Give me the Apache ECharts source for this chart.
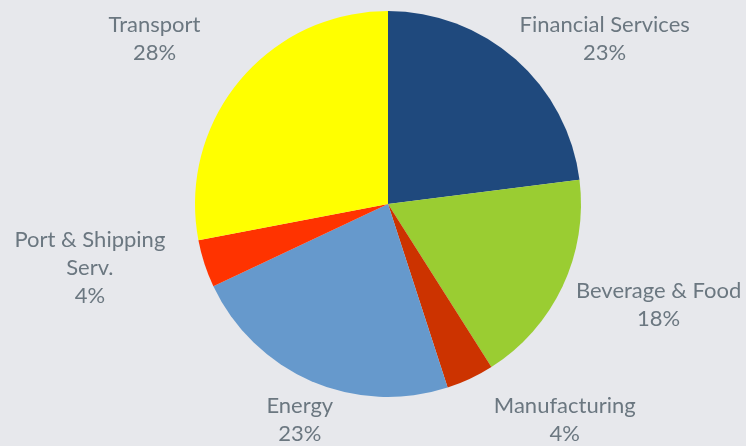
<!DOCTYPE html>
<html>
<head>
<meta charset="utf-8">
<script src="https://cdn.jsdelivr.net/npm/echarts@6/dist/echarts.min.js"></script>
<style>
  html, body { margin: 0; padding: 0; background: #e7e8ec; }
  #chart { width: 746px; height: 446px; }
</style>
</head>
<body>
<div id="chart"></div>
<script>
// sector shares, clockwise from 12 o'clock
const sectors = ["Financial Services", "Beverage & Food", "Manufacturing", "Energy", "Port & Shipping\nServ.", "Transport"];
const shares = [23, 18, 4, 23, 4, 28];
const colors = ["#1f497d", "#9acd32", "#cc3300", "#6699cc", "#ff3300", "#ffff00"];
// nudges to put the labels where the original placed them
const labelNudge = [[-13, -7], [-8, 11], [11, 25], [34, 22], [-17, -1], [-20, -31]];

const chart = echarts.init(document.getElementById("chart"));

chart.setOption({
  backgroundColor: "#e7e8ec",
  animation: false,
  series: [
    {
      type: "pie",
      center: [388, 204],
      radius: 193,
      startAngle: 90,
      clockwise: true,
      data: sectors.map((name, i) => ({
        name: name,
        value: shares[i],
        itemStyle: { color: colors[i] },
      })),
      label: {
        show: true,
        position: "outside",
        formatter: "{b}\n{c}%",
        fontFamily: "Lato",
        fontSize: 22,
        lineHeight: 28,
        color: "#6b7780",
        overflow: "none",
      },
      labelLine: { show: false, length: 18, length2: 0 },
      labelLayout: (p) => {
        const half = p.labelRect.width / 2;
        const n = labelNudge[p.dataIndex];
        return {
          align: "center",
          dx: (p.align === "left" ? half : -half) + n[0],
          dy: n[1],
        };
      },
    },
  ],
});
</script>
</body>
</html>
